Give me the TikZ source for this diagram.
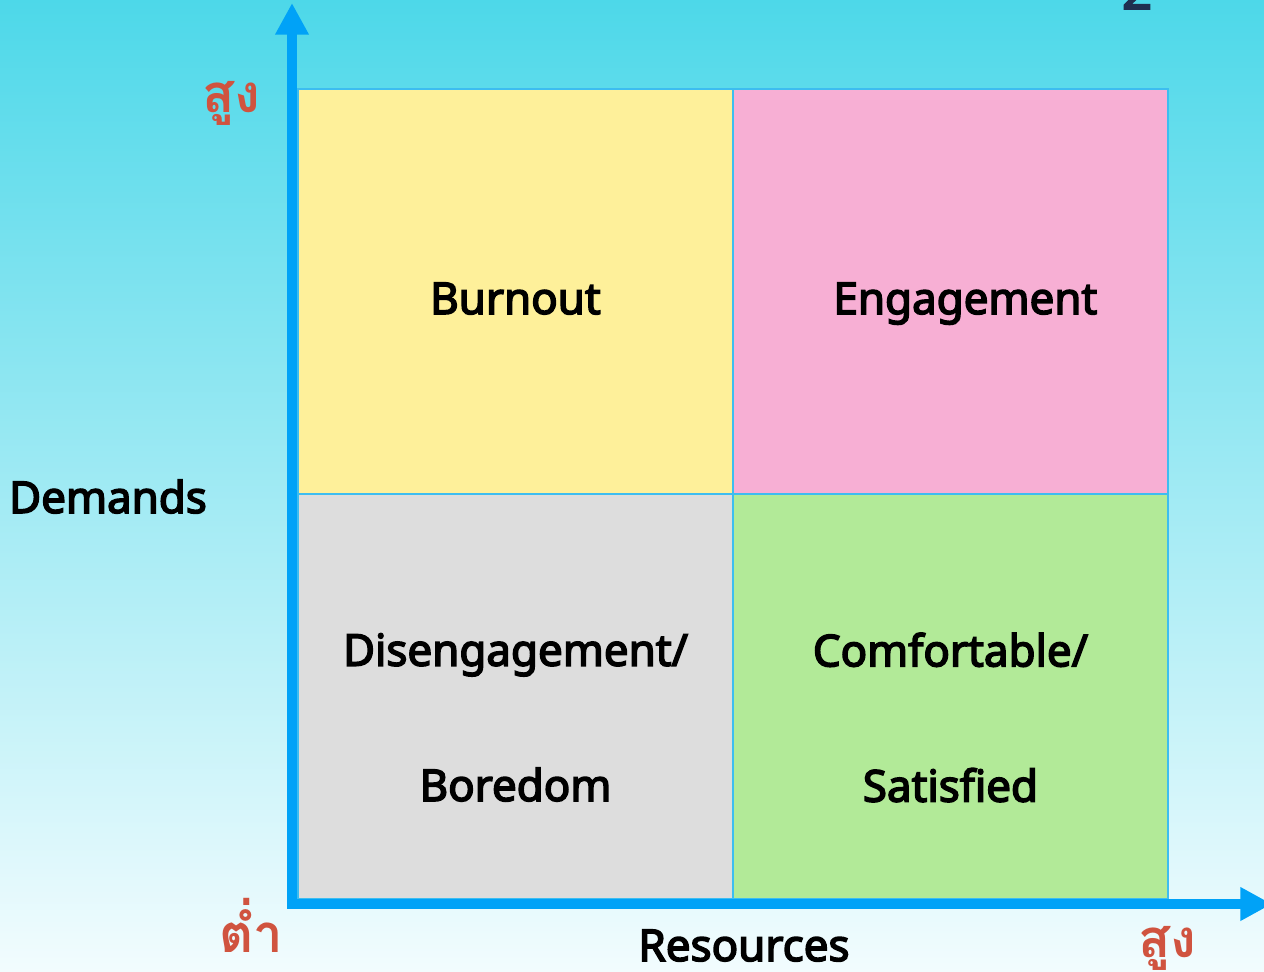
\documentclass[tikz,border=0pt]{standalone}
\usepackage{fontspec}
\setmainfont{Noto Sans}[BoldFont={Noto Sans}, BoldFeatures={FakeBold=3.5}]
\newfontfamily\thaifont[Script=Thai]{Loma}
\usepackage{tikz}
\usetikzlibrary{positioning,arrows.meta}

\definecolor{skytop}{HTML}{4DD8E9}
\definecolor{skymid}{HTML}{A6EBF3}
\definecolor{skybottom}{HTML}{F2FCFE}
\definecolor{burnoutyellow}{HTML}{FEF09A}
\definecolor{engagepink}{HTML}{F7AFD4}
\definecolor{boredgray}{HTML}{DDDDDD}
\definecolor{comfortgreen}{HTML}{B2EA98}
\definecolor{axisblue}{HTML}{00A2F7}
\definecolor{cellborder}{HTML}{3DBDF0}
\definecolor{levelred}{HTML}{D0533F}
\definecolor{pagenavy}{HTML}{1F3050}

\tikzstyle{cell} = [rectangle, minimum width=8.7cm, minimum height=8.1cm, outer sep=0pt, draw=cellborder, line width=0.8pt]
\tikzstyle{quadtext} = [font=\bfseries\fontsize{25}{30}\selectfont, text=black, align=center]
\tikzstyle{axistext} = [font=\bfseries\fontsize{25}{30}\selectfont, text=black, anchor=base]
\tikzstyle{level} = [font=\thaifont\bfseries\fontsize{30}{36}\selectfont, text=levelred]
\tikzstyle{axis} = [draw=axisblue, line width=6pt, {Triangle[length=18pt,width=18pt]}-{Triangle[length=18pt,width=18pt]}]

\begin{document}
\begin{tikzpicture}[x=0.02cm, y=-0.02cm]
\useasboundingbox (0,0) rectangle (1264,971);
\shade[top color=skytop, middle color=skymid, bottom color=skybottom] (0,0) rectangle (1264,971);

\node (burnout) [cell, fill=burnoutyellow] at (515.5,291.5) {};
\node (engagement) [cell, fill=engagepink, right=0pt of burnout] {};
\node (boredom) [cell, fill=boredgray, below=0pt of burnout] {};
\node (comfort) [cell, fill=comfortgreen, below=0pt of engagement] {};

\node (burnouttext) [quadtext, anchor=base] at ([yshift=-0.45cm]burnout.center) {Burnout};
\node (engagementtext) [quadtext, anchor=base] at ([xshift=0.3cm,yshift=-0.45cm]engagement.center) {Engagement};
\node (boredomtext) [quadtext] at ([yshift=-0.42cm]boredom.center) {Disengagement/\\[47pt]Boredom};
\node (comforttext) [quadtext] at ([yshift=-0.42cm]comfort.center) {Comfortable/\\[47pt]Satisfied};

\coordinate (ytip) at (292,3);
\coordinate (origin) at (292,904);
\coordinate (xtip) at (1272,904);
\draw[axis] (ytip) -- (origin) -- (xtip);

\node (demands) [axistext] at (108,513) {Demands};
\node (resources) [axistext] at (744,961) {Resources};
\node (yhigh) [level] at (231,103) {สูง};
\node (low) [level] at (251,925) {ต่ำ};
\node (xhigh) [level] at (1167,948) {สูง};

\node (pagenum) [font=\bfseries\fontsize{30}{36}\selectfont, text=pagenavy, anchor=base] at (1137,9) {2};
\end{tikzpicture}
\end{document}
